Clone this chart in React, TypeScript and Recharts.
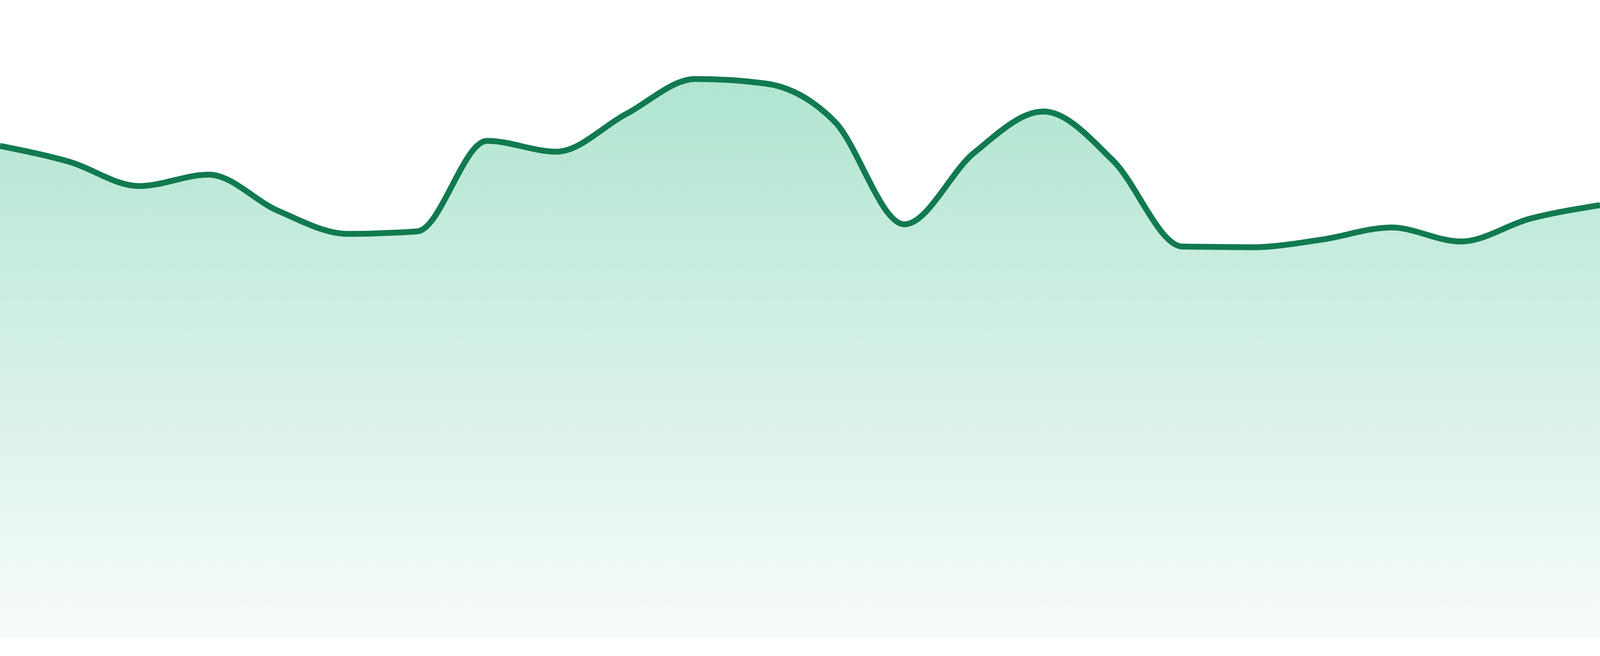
import React from "react";
import { AreaChart, Area, XAxis, YAxis } from "recharts";

const categories: string[] = [
  "P01", "P02", "P03", "P04", "P05", "P06", "P07", "P08",
  "P09", "P10", "P11", "P12", "P13", "P14", "P15", "P16",
  "P17", "P18", "P19", "P20", "P21", "P22", "P23", "P24",
];

const values: number[] = [
  77.1, 74.6, 70.8, 72.6, 66.9, 63.3, 63.7, 77.9,
  76.2, 82.1, 87.6, 86.9, 80.9, 64.8, 76.0, 82.5,
  74.8, 61.3, 61.2, 62.4, 64.3, 62.1, 65.7, 67.8,
];

const yDomain: [number, number] = [0, 100];

const data = categories.map((c, i) => ({ name: c, value: values[i] }));

const CHART_HEIGHT = 1680;
const CHART_WIDTH =
  typeof window !== "undefined" && window.innerWidth > 0
    ? Math.min(window.innerWidth, 4800)
    : 4800;

export default function App() {
  return (
    <div
      style={{
        position: "absolute",
        left: 0,
        top: 0,
        width: CHART_WIDTH,
        height: CHART_HEIGHT,
        background: "#ffffff",
        overflow: "hidden",
      }}
    >
      <AreaChart
        width={CHART_WIDTH}
        height={CHART_HEIGHT}
        data={data}
        margin={{ top: 0, right: 0, bottom: 48, left: 0 }}
      >
        <defs>
          <linearGradient id="fillGrad" x1="0" y1="0" x2="0" y2="1">
            <stop offset="0%" stopColor="#b0e5d0" stopOpacity={1} />
            <stop offset="100%" stopColor="#f8fcfa" stopOpacity={1} />
          </linearGradient>
        </defs>
        <XAxis dataKey="name" hide />
        <YAxis hide domain={yDomain} />
        <Area
          type="monotone"
          dataKey="value"
          stroke="#117a50"
          strokeWidth={15}
          fill="url(#fillGrad)"
          fillOpacity={1}
          dot={false}
          activeDot={false}
          isAnimationActive={false}
        />
      </AreaChart>
    </div>
  );
}
